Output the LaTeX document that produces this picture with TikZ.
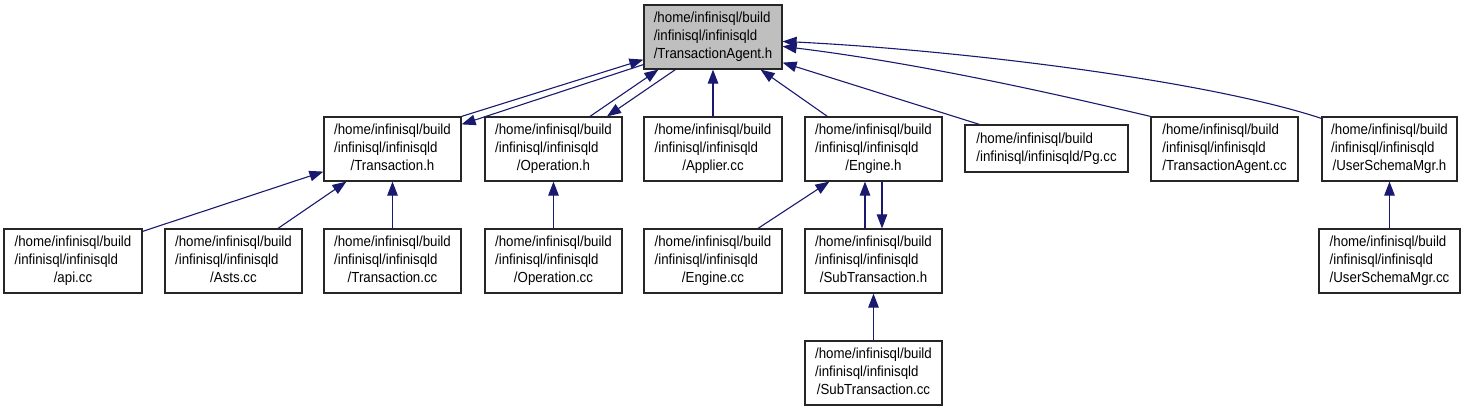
\documentclass[tikz,border=0pt]{standalone}
\usepackage{fontspec}
\setmainfont{Liberation Sans}[FakeStretch=0.91]
\usetikzlibrary{arrows.meta,calc}
\definecolor{edgeblue}{HTML}{191970}
\definecolor{boxgray}{HTML}{BFBFBF}
\newcommand{\fl}[1]{\begin{tabular}{@{}l@{}}/home/infinisql/build\\/infinisql/infinisqld\\\multicolumn{1}{@{}c@{}}{#1}\end{tabular}}
\begin{document}
\begin{tikzpicture}[x=1pt,y=-1pt,
  box/.style={draw=black!85, line width=1.2pt, fill=white, inner sep=0pt, minimum height=64pt,
    font=\fontsize{14.6}{18}\selectfont, align=center},
  edge/.style={draw=edgeblue, line width=1.1pt, -{Triangle[length=14pt,width=10.5pt]}}]
\useasboundingbox (0,0) rectangle (1467,411);
% row 1
\node[box, fill=boxgray, minimum width=138pt] (ta) at (713,37) {\fl{/TransactionAgent.h}};
% row 2
\node[box, minimum width=137pt] (trh) at (392.5,149) {\fl{/Transaction.h}};
\node[box, minimum width=137pt] (oph) at (553.5,149) {\fl{/Operation.h}};
\node[box, minimum width=138pt] (app) at (713,149) {\fl{/Applier.cc}};
\node[box, minimum width=137pt] (engh) at (873.5,149) {\fl{/Engine.h}};
\node[box, minimum width=163pt, minimum height=47pt] (pg) at (1046.5,148.5)
  {\begin{tabular}{@{}l@{}}/home/infinisql/build\\/infinisql/infinisqld/Pg.cc\end{tabular}};
\node[box, minimum width=147pt] (tacc) at (1224.5,149) {\fl{/TransactionAgent.cc}};
\node[box, minimum width=135pt] (usmh) at (1389.5,149) {\fl{/UserSchemaMgr.h}};
% row 3
\node[box, minimum width=138pt] (api) at (73,261) {\fl{/api.cc}};
\node[box, minimum width=137pt] (asts) at (233.5,261) {\fl{/Asts.cc}};
\node[box, minimum width=137pt] (trcc) at (392.5,261) {\fl{/Transaction.cc}};
\node[box, minimum width=137pt] (opcc) at (553.5,261) {\fl{/Operation.cc}};
\node[box, minimum width=138pt] (engcc) at (713,261) {\fl{/Engine.cc}};
\node[box, minimum width=137pt] (subh) at (873.5,261) {\fl{/SubTransaction.h}};
\node[box, minimum width=141pt] (usmcc) at (1389.5,261) {\fl{/UserSchemaMgr.cc}};
% row 4
\node[box, minimum width=137pt] (subcc) at (873.5,373) {\fl{/SubTransaction.cc}};
% edges
\draw[edge] (trh.north east) -- ($(ta.south west)+(0,-10)$);
\draw[edge] ($(ta.south west)+(0,-5)$) -- ($(trh.north east)+(0,8)$);
\draw[edge] ($(oph.north)+(36.5,0)$) -- ($(ta.south west)+(15,0)$);
\draw[edge] ($(ta.south west)+(32,0)$) -- ($(oph.north)+(53.5,0)$);
\draw[edge] (app.north) -- (ta.south);
\draw[edge] ($(engh.north west)+(23,0)$) -- ($(ta.south east)+(-22,0)$);
\draw[edge] ($(pg.north west)+(15,0)$) -- ($(ta.south east)+(0,-7)$);
\draw[edge] (tacc.north west) .. controls +(-72,-17) and +(147,18) .. ($(ta.north east)+(0,42)$);
\draw[edge] ($(usmh.north west)+(0,2)$) .. controls +(-122,-40) and +(165,8) .. ($(ta.north east)+(0,37)$);
\draw[edge] ($(api.north east)+(0,3)$) -- ($(trh.south west)+(0,-10)$);
\draw[edge] ($(asts.north)+(44.5,0)$) -- ($(trh.south west)+(23,0)$);
\draw[edge] (trcc.north) -- (trh.south);
\draw[edge] (opcc.north) -- (oph.south);
\draw[edge] ($(engcc.north)+(45,0)$) -- ($(engh.south west)+(25,0)$);
\draw[edge] ($(subh.north)+(-8.5,0)$) -- ($(engh.south)+(-8.5,0)$);
\draw[edge] ($(engh.south)+(8.5,0)$) -- ($(subh.north)+(8.5,0)$);
\draw[edge] (subcc.north) -- (subh.south);
\draw[edge] (usmcc.north) -- (usmh.south);
\end{tikzpicture}
\end{document}
